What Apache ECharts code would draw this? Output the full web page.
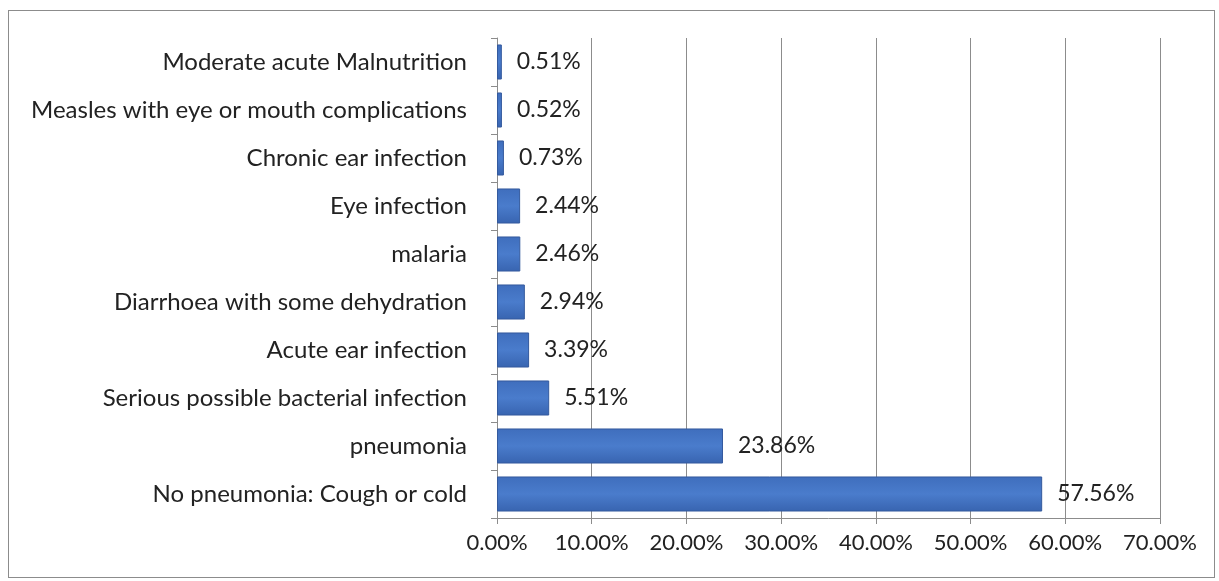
<!DOCTYPE html>
<html>
<head>
<meta charset="utf-8">
<script src="https://cdn.jsdelivr.net/npm/echarts@6/dist/echarts.min.js"></script>
<style>
  html, body { margin: 0; padding: 0; background: #fff; }
  #frame { position: absolute; left: 8px; top: 10px; width: 1207px; height: 568px; border: 1px solid #8c8c8c; box-sizing: border-box; }
  #main { position: absolute; left: 0; top: 0; width: 1219px; height: 581px; }
</style>
</head>
<body>
<div id="frame"></div>
<div id="main"></div>
<script>
// categories listed bottom to top
const categories = [
  'No pneumonia: Cough or cold',
  'pneumonia',
  'Serious possible bacterial infection',
  'Acute ear infection',
  'Diarrhoea with some dehydration',
  'malaria',
  'Eye infection',
  'Chronic ear infection',
  'Measles with eye or mouth complications',
  'Moderate acute Malnutrition'
];
const values = [57.56, 23.86, 5.51, 3.39, 2.94, 2.46, 2.44, 0.73, 0.52, 0.51];

var chartDom = document.getElementById('main');
var myChart = echarts.init(chartDom);

let option = {
    animation: false,
    grid: {
        left: 497,
        right: 59,
        top: 38,
        bottom: 63
    },
    xAxis: {
        type: 'value',
        min: 0,
        max: 70,
        interval: 10,
        axisLine: { show: true, lineStyle: { color: '#8c8c8c' } },
        axisTick: { show: true, length: 6, lineStyle: { color: '#8c8c8c' } },
        axisLabel: {
            color: '#222',
            fontFamily: 'Lato',
            fontSize: 22,
            margin: 14,
            formatter: v => v.toFixed(2) + '%'
        },
        splitLine: { show: true, lineStyle: { color: '#8c8c8c', width: 1 } }
    },
    yAxis: {
        type: 'category',
        data: categories,
        axisLine: { show: true, lineStyle: { color: '#8c8c8c' } },
        axisTick: { show: true, length: 6, lineStyle: { color: '#8c8c8c' } },
        axisLabel: {
            color: '#222',
            fontFamily: 'Lato',
            fontSize: 24,
            margin: 30
        }
    },
    series: [{
        type: 'bar',
        data: values,
        barWidth: '73%',
        itemStyle: {
            color: new echarts.graphic.LinearGradient(0, 0, 0, 1, [
                { offset: 0, color: '#3f6ebd' },
                { offset: 0.5, color: '#4a7ccc' },
                { offset: 1, color: '#3864b0' }
            ]),
            borderColor: '#345a9e',
            borderWidth: 1
        },
        label: {
            show: true,
            position: 'right',
            distance: 15,
            color: '#222',
            fontFamily: 'Lato',
            fontSize: 23,
            formatter: p => p.value.toFixed(2) + '%'
        }
    }]
};

option && myChart.setOption(option);
</script>
</body>
</html>
